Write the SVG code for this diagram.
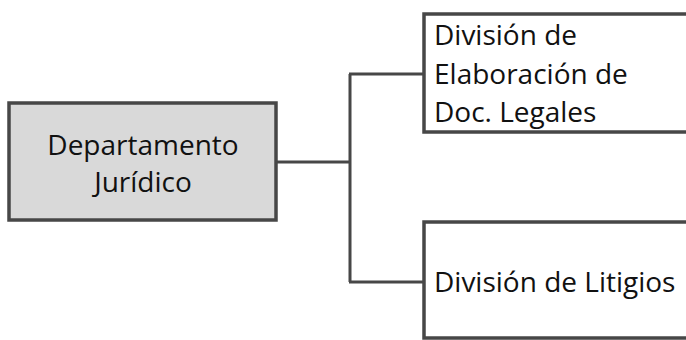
<svg xmlns="http://www.w3.org/2000/svg" width="686" height="340" viewBox="0 0 686 340">
<style>
.box{stroke:#474747;stroke-width:3.5}
.t{font-family:"Open Sans","Liberation Sans",sans-serif;font-size:28px;fill:#111}
.c{fill:none;stroke:#474747;stroke-width:3}
</style>
<rect width="686" height="340" fill="#fff"/>
<g id="connectors">
<path class="c" d="M276 162 H350 M350 74 V282 M349 74 H424 M349 282 H424"/>
</g>
<g id="dept">
<rect class="box" x="9" y="103" width="267" height="117" fill="#d9d9d9"/>
<text class="t" x="143" y="155" text-anchor="middle">Departamento</text>
<text class="t" x="143" y="192" text-anchor="middle">Jurídico</text>
</g>
<g id="div1">
<rect class="box" x="424" y="14" width="270" height="118" fill="#fff"/>
<text class="t" x="434" y="45">División de</text>
<text class="t" x="434" y="84">Elaboración de</text>
<text class="t" x="434" y="122">Doc. Legales</text>
</g>
<g id="div2">
<rect class="box" x="424" y="222" width="270" height="116" fill="#fff"/>
<text class="t" x="434" y="292">División de Litigios</text>
</g>
</svg>
